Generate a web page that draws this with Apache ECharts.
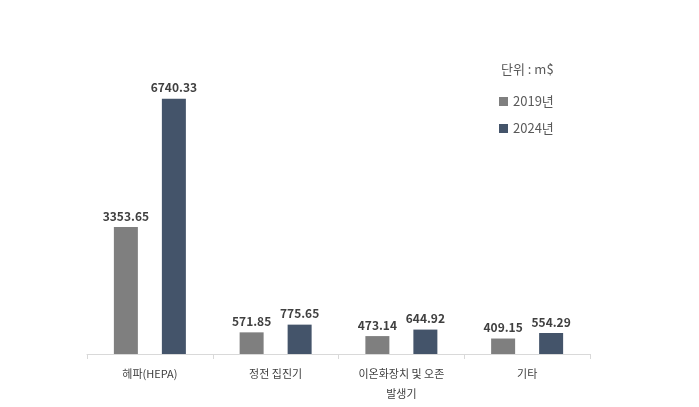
<!DOCTYPE html>
<html><head><meta charset="utf-8">
<script src="https://cdn.jsdelivr.net/npm/echarts@6/dist/echarts.min.js"></script>
<style>html,body{margin:0;background:#fff}#main{width:699px;height:407px}</style>
</head><body><div id="main"></div>
<script>
var categories = ['헤파(HEPA)', '정전 집진기', '이온화장치 및 오존\n발생기', '기타'];
var values2019 = [3353.65, 571.85, 473.14, 409.15];
var values2024 = [6740.33, 775.65, 644.92, 554.29];
var font = '"Noto Sans CJK KR", "Noto Sans", sans-serif';

var chart = echarts.init(document.getElementById('main'));
var label = {show: true, position: 'top', fontFamily: font, fontSize: 12, fontWeight: 'bold', color: '#404040',
  formatter: function (p) { return p.value.toFixed(2); }};
chart.setOption({
  animation: false,
  title: {text: '단위 : m$', left: 496, top: 58, textStyle: {fontFamily: font, fontSize: 13, fontWeight: 'normal', color: '#595959'}},
  legend: {orient: 'vertical', left: 494, top: 90, itemWidth: 9, itemHeight: 9, itemGap: 14,
    textStyle: {fontFamily: font, fontSize: 13, color: '#595959'}, icon: 'rect'},
  grid: {left: 87, right: 109, top: 89, bottom: 53},
  xAxis: {type: 'category', data: categories,
    axisLine: {lineStyle: {color: '#d9d9d9'}},
    axisTick: {show: true, length: 5, lineStyle: {color: '#d9d9d9'}},
    axisLabel: {fontFamily: font, fontSize: 11, color: '#404040', lineHeight: 20, margin: 10}},
  yAxis: {type: 'value', min: 0, max: 7000, show: false, splitLine: {show: false}},
  series: [
    {name: '2019년', type: 'bar', data: values2019, barWidth: 24, barGap: '100%', itemStyle: {color: '#7f7f7f'}, label: label},
    {name: '2024년', type: 'bar', data: values2024, barWidth: 24, itemStyle: {color: '#44546a'}, label: label}
  ]
});
</script></body></html>
